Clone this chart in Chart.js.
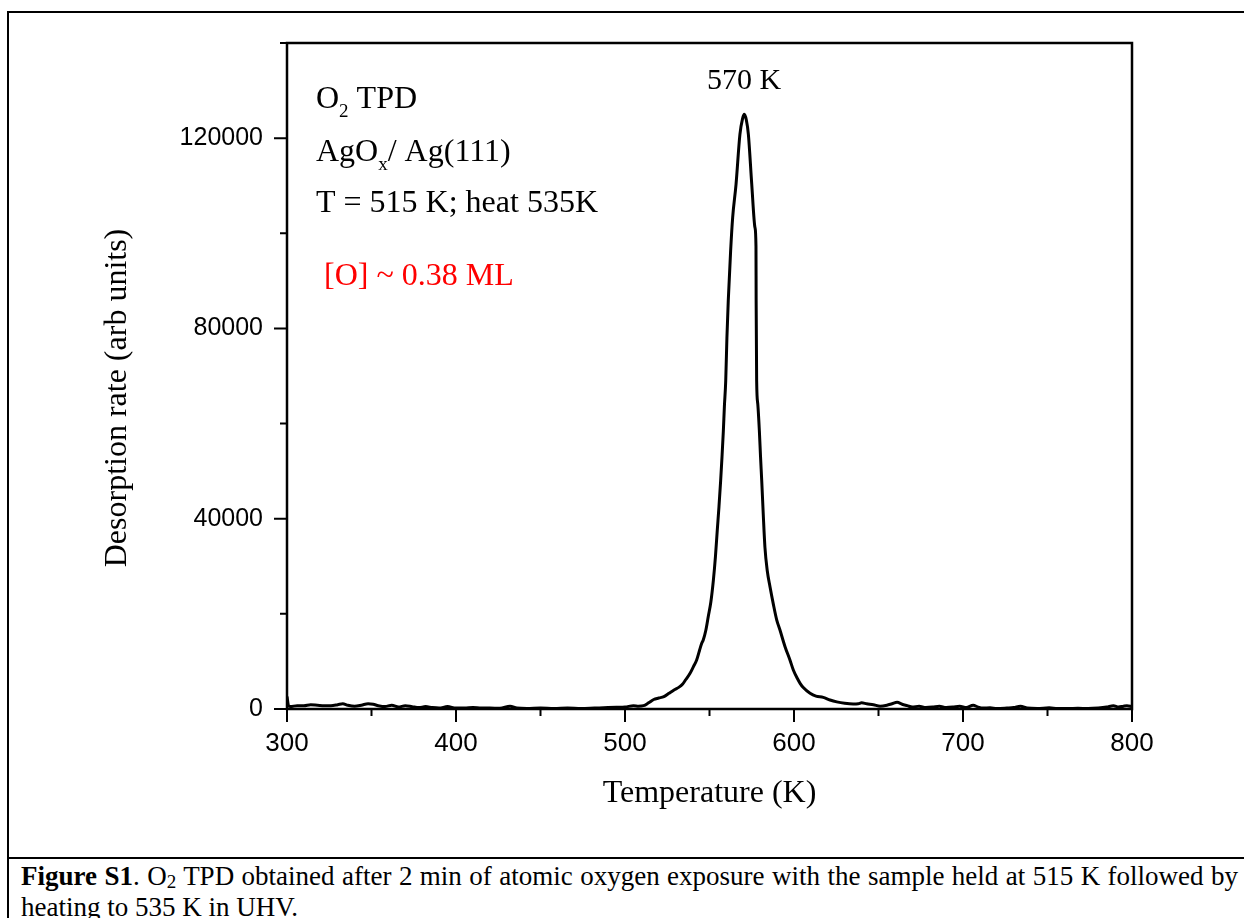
<!DOCTYPE html>
<html>
<head>
<meta charset="utf-8">
<title>O2 TPD</title>
<script src="https://cdn.jsdelivr.net/npm/chart.js@4/dist/chart.umd.min.js"></script>
<style>
html, body { margin: 0; padding: 0; background: #fff; }
body { width: 1244px; height: 918px; position: relative; overflow: hidden; font-family: "Liberation Serif", "Times New Roman", serif; }
.rule { position: absolute; background: #000; }
#wrap { position: absolute; left: 0; top: 0; width: 1244px; height: 858px; }
#caption { position: absolute; left: 21px; top: 862px; width: 1217px; font-size: 27px; line-height: 28px; color: #000; }
#caption .l1 { text-align: justify; text-align-last: justify; }
#caption sub { font-size: 19px; vertical-align: baseline; position: relative; top: 3px; }
</style>
</head>
<body>
<div class="rule" style="left:7px;top:11px;width:1237px;height:2px"></div>
<div class="rule" style="left:7px;top:11px;width:2px;height:907px"></div>
<div class="rule" style="left:7px;top:857px;width:1237px;height:2px"></div>
<div id="wrap"><canvas id="tpd" width="1244" height="858"></canvas></div>
<div id="caption">
  <div class="l1"><b>Figure S1</b>. O<sub>2</sub> TPD obtained after 2 min of atomic oxygen exposure with the sample held at 515 K followed by</div>
  <div>heating to 535 K in UHV.</div>
</div>
<script>
// ---- data ----
const temps = [
  300, 301, 302, 306, 310, 314, 318, 322, 326, 330, 333, 336, 340, 344, 348, 351, 354, 358, 362, 366,
  370, 374, 378, 382, 386, 390, 395, 400, 405, 410, 415, 420, 426, 432, 436, 442, 450, 458, 466, 474,
  482, 490, 495, 500, 505, 508, 511, 514, 517, 520, 523, 526, 529, 532, 534, 536, 538.5, 540.5, 542.4, 544,
  545.4, 546.3, 547.8, 549.3, 550.8, 552.3, 553.5, 554.6, 555.6, 556.6, 557.4, 558.2, 558.8, 559.6, 560.3, 561.1,
  562.5, 563.7, 565.7, 568, 569.5, 570.6, 571.8, 573, 575, 576.9, 577.5, 577.6, 577.9, 578.6, 579.5, 580.2,
  580.9, 581.8, 582.8, 584.2, 585.8, 587.8, 589.8, 591.7, 594.7, 597.6, 599.6, 602, 603.6, 605.5, 609.5, 613,
  617.3, 621.3, 625.3, 630, 635, 638, 640, 643, 647, 651, 655, 658, 661, 664, 667, 670, 674, 678, 682, 686,
  690, 694, 698, 702, 706, 709, 712, 716, 720, 726, 730, 734, 738, 744, 751, 756, 762, 768, 774, 780,
  785, 789, 792, 795, 797, 800
];
const rates = [
  2600, 600, 500, 700, 700, 900, 800, 700, 700, 900, 1100, 800, 600, 800, 1100, 1000, 700, 500, 800, 400,
  700, 500, 300, 500, 300, 200, 500, 200, 200, 300, 200, 200, 150, 600, 200, 100, 200, 100, 200, 100,
  200, 300, 350, 400, 700, 600, 700, 1300, 2000, 2300, 2600, 3300, 4000, 4600, 5200, 6200, 7500, 8900, 10300, 12200,
  13800, 14500, 16500, 19500, 22500, 27100, 32000, 37600, 42500, 48000, 53000, 58500, 63500, 69000, 78000, 85800,
  96300, 103300, 110300, 120800, 124000, 125000, 123800, 120800, 110300, 101200, 97300, 85800, 69000, 64000, 58500, 53000,
  48000, 41000, 34000, 29000, 25700, 22000, 18700, 16600, 13100, 10300, 8200, 6400, 5400, 4500, 3300, 2700,
  2450, 1900, 1500, 1200, 1050, 1100, 1300, 1100, 900, 600, 800, 1100, 1400, 1000, 700, 400, 600, 300, 400, 600,
  300, 400, 600, 300, 800, 400, 200, 250, 100, 200, 300, 600, 200, 100, 250, 100, 100, 150, 100, 200,
  400, 700, 400, 600, 700, 500
];
const xRange = [300, 800];
const yRange = [0, 140000];
const xLabelTicks = [300, 400, 500, 600, 700, 800];
const yLabelTicks = [0, 40000, 80000, 120000];

const SERIF = '"Liberation Serif", "Times New Roman", serif';
const SANS = '"Liberation Sans", Arial, sans-serif';

// ---- frame, ticks and labels inside the plot ----
const decor = {
  id: 'decor',
  afterDraw(chart) {
    const ctx = chart.ctx;
    const a = chart.chartArea;
    const xs = chart.scales.x, ys = chart.scales.y;
    ctx.save();
    ctx.strokeStyle = '#000';
    ctx.lineWidth = 2.5;
    ctx.strokeRect(a.left, a.top, a.right - a.left, a.bottom - a.top);

    ctx.lineWidth = 2;
    ctx.beginPath();
    xs.ticks.forEach(t => {
      const px = xs.getPixelForValue(t.value);
      const len = xLabelTicks.includes(t.value) ? 13 : 7;
      ctx.moveTo(px, a.bottom);
      ctx.lineTo(px, a.bottom + len);
    });
    ys.ticks.forEach(t => {
      const py = ys.getPixelForValue(t.value);
      const len = yLabelTicks.includes(t.value) ? 13 : 7;
      ctx.moveTo(a.left, py);
      ctx.lineTo(a.left - len, py);
    });
    ctx.stroke();

    // text in the plot
    ctx.fillStyle = '#000';
    ctx.textBaseline = 'alphabetic';
    ctx.textAlign = 'left';
    const big = '32px ' + SERIF, small = '19px ' + SERIF;
    const runs = (x, y, parts) => {
      parts.forEach(([txt, sub, color]) => {
        ctx.font = sub ? small : big;
        ctx.fillStyle = color || '#000';
        ctx.fillText(txt, x, sub ? y + 9 : y);
        x += ctx.measureText(txt).width;
      });
    };
    runs(316, 108, [['O'], ['2', true], [' TPD']]);
    runs(316, 161, [['AgO'], ['x', true], ['/ Ag(111)']]);
    runs(316, 212, [['T = 515 K; heat 535K']]);
    runs(324, 285, [['[O] ~ 0.38 ML', false, '#ff0000']]);
    ctx.font = '30px ' + SERIF;
    ctx.fillStyle = '#000';
    ctx.textAlign = 'center';
    ctx.fillText('570 K', 744, 89);

    // y axis title
    ctx.font = big;
    ctx.translate(118, 398);
    ctx.rotate(-Math.PI / 2);
    ctx.textBaseline = 'middle';
    ctx.fillText('Desorption rate (arb units)', 0, 0);
    ctx.restore();
  }
};

new Chart(document.getElementById('tpd'), {
  type: 'line',
  data: {
    datasets: [{
      data: temps.map((t, i) => ({ x: t, y: rates[i] })),
      borderColor: '#000',
      borderWidth: 3,
      pointRadius: 0,
      cubicInterpolationMode: 'monotone',
      fill: false
    }]
  },
  options: {
    responsive: false,
    animation: false,
    devicePixelRatio: 1,
    layout: { padding: { left: 0, right: 112, top: 43, bottom: 0 } },
    plugins: { legend: { display: false }, tooltip: { enabled: false } },
    scales: {
      x: {
        type: 'linear',
        min: xRange[0], max: xRange[1],
        afterFit: s => { s.height = 149; },
        grid: { display: false, drawTicks: false },
        border: { display: false },
        ticks: {
          stepSize: 50, autoSkip: false, maxRotation: 0, padding: 19,
          color: '#000', font: { family: SANS, size: 26 },
          callback: v => xLabelTicks.includes(v) ? String(v) : ''
        },
        title: {
          display: true, text: 'Temperature (K)', color: '#000',
          font: { family: SERIF, size: 32 }, padding: { top: 0, bottom: 45 }
        }
      },
      y: {
        min: yRange[0], max: yRange[1],
        afterFit: s => { s.width = 287; },
        grid: { display: false, drawTicks: false },
        border: { display: false },
        ticks: {
          stepSize: 20000, autoSkip: false, padding: 24,
          color: '#000', font: { family: SANS, size: 25 },
          callback: v => yLabelTicks.includes(v) ? String(v) : ''
        }
      }
    }
  },
  plugins: [decor]
});
</script>
</body>
</html>
